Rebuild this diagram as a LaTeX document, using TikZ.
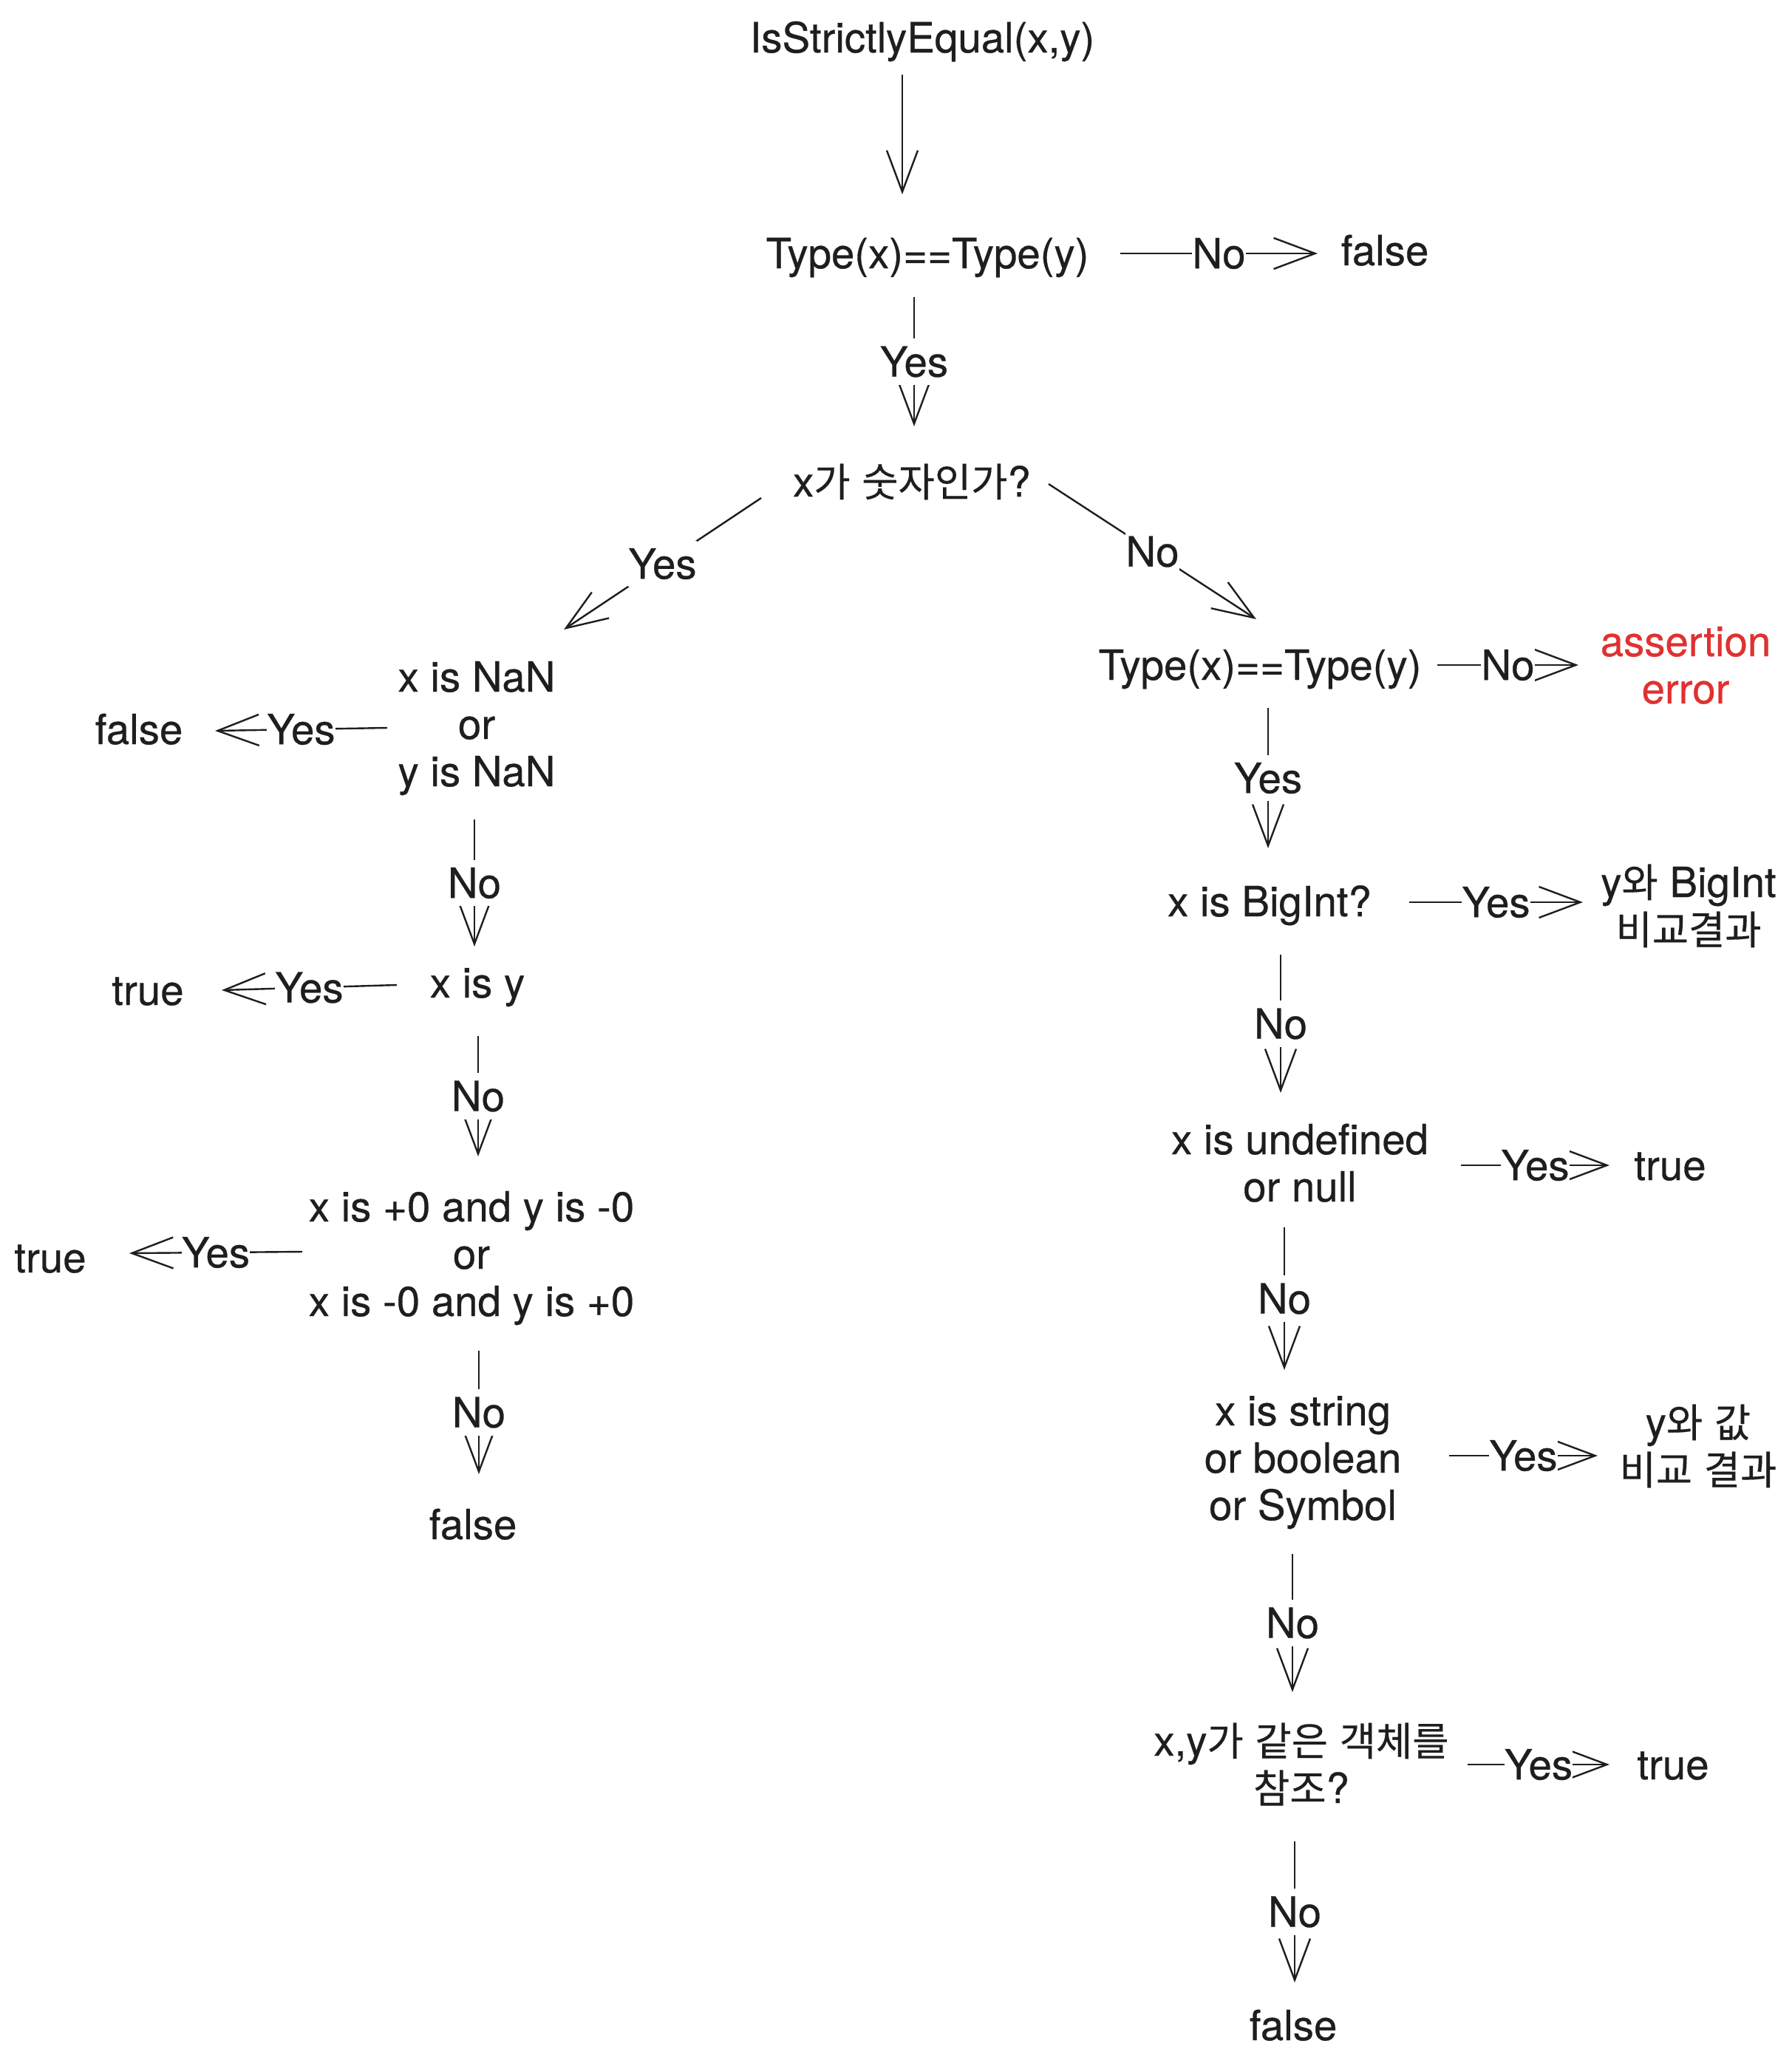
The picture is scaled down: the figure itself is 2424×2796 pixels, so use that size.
\documentclass[tikz,border=0pt]{standalone}
\usepackage{fontspec}
\setmainfont{TeX Gyre Heros}[FakeBold=0.5]
\newfontfamily\kr[Scale=0.95,FakeBold=0.3]{Noto Sans CJK KR}
\usetikzlibrary{arrows.meta}
\definecolor{ink}{RGB}{30,30,30}
\definecolor{errred}{RGB}{224,49,49}
\newcommand\fs{\fontsize{14.1}{16}\selectfont}
\newcommand\K[1]{{\kr #1}}
\newcommand\ml[1]{\vtop{\baselineskip=16pt\lineskiplimit=-\maxdimen\halign{\hfil##\hfil\cr#1\crcr}}}
\begin{document}
\begin{tikzpicture}[x=0.25pt,y=-0.25pt,
  txt/.style={anchor=base, inner sep=0pt, font=\fs, text=ink},
  lbl/.style={fill=white, inner xsep=0pt, inner ysep=2.75pt, text height=10.1pt, text depth=0pt, font=\fs, text=ink},
  arr/.style={draw=ink, line width=0.6pt, -{Straight Barb[length=14pt,width=10.5pt]}}]
\fill[white] (0,0) rectangle (2424,2796);
\useasboundingbox (0,0) rectangle (2424,2796);
% nodes
\node[txt] (n1) at (1248,71) {IsStrictlyEqual(x,y)};
\node[txt] (n2) at (1255,363) {Type(x)==Type(y)};
\node[txt] (f1) at (1874,359) {false};
\node[txt] (n3) at (1234,672) {x\K{가} \K{숫자인가}?};
\node[txt] (n4) at (645,936) {\ml{x is NaN\cr or\cr y is NaN}};
\node[txt] (f2) at (188,1007) {false};
\node[txt] (n5) at (646,1350) {x is y};
\node[txt] (f3) at (200,1360) {true};
\node[txt] (n6) at (638,1653) {\ml{x is +0 and y is -0\cr or\cr x is -0 and y is +0}};
\node[txt] (f4) at (68,1722) {true};
\node[txt] (f5) at (640,2083) {false};
\node[txt] (n7) at (1705,920) {Type(x)==Type(y)};
\node[txt, text=errred] (err) at (2281,888) {\ml{assertion\cr error}};
\node[txt] (n8) at (1718,1240) {x is BigInt?};
\node[txt] (yb) at (2285,1214) {\ml{y\K{와} BigInt\cr \K{비교결과}}};
\node[txt] (n9) at (1759,1562) {\ml{x is undefined\cr or null}};
\node[txt] (f6) at (2260,1597) {true};
\node[txt] (n10) at (1763,1929) {\ml{x is string\cr or boolean\cr or Symbol}};
\node[txt] (yv) at (2298,1945) {\ml{y\K{와} \K{값}\cr \K{비교} \K{결과}}};
\node[txt] (n11) at (1761,2376) {\ml{x,y\K{가} \K{같은} \K{객체를}\cr \K{참조}?}};
\node[txt] (f7) at (2264,2408) {true};
\node[txt] (f8) at (1750,2761) {false};
% connectors
\draw[arr] ([shift={(-27,30)}]n1.base) -- ([shift={(-34,-100)}]n2.base);
\draw[arr] ([shift={(261,-20)}]n2.base) -- node[lbl]{No} ([shift={(-91,-16)}]f1.base);
\draw[arr] ([shift={(-18,39)}]n2.base) -- node[lbl]{Yes} ([shift={(3,-95)}]n3.base);
\draw[arr] ([shift={(-204,2)}]n3.base) -- node[lbl]{Yes} ([shift={(118,-84)}]n4.base);
\draw[arr] ([shift={(185,-17)}]n3.base) -- node[lbl]{No} ([shift={(-5,-82)}]n7.base);
\draw[arr] ([shift={(-121,49)}]n4.base) -- node[lbl]{Yes} ([shift={(103,-18)}]f2.base);
\draw[arr] ([shift={(-3,173)}]n4.base) -- node[lbl]{No} ([shift={(-4,-69)}]n5.base);
\draw[arr] ([shift={(-109,-17)}]n5.base) -- node[lbl]{Yes} ([shift={(100,-20)}]f3.base);
\draw[arr] ([shift={(1,52)}]n5.base) -- node[lbl]{No} ([shift={(9,-88)}]n6.base);
\draw[arr] ([shift={(-229,41)}]n6.base) -- node[lbl]{Yes} ([shift={(107,-26)}]f4.base);
\draw[arr] ([shift={(10,175)}]n6.base) -- node[lbl]{No} ([shift={(8,-88)}]f5.base);
\draw[arr] ([shift={(240,-20)}]n7.base) -- node[lbl]{No} ([shift={(-145,12)}]err.base);
\draw[arr] ([shift={(11,38)}]n7.base) -- node[lbl]{Yes} ([shift={(-2,-92)}]n8.base);
\draw[arr] ([shift={(189,-19)}]n8.base) -- node[lbl]{Yes} ([shift={(-143,7)}]yb.base);
\draw[arr] ([shift={(15,52)}]n8.base) -- node[lbl]{No} ([shift={(-26,-83)}]n9.base);
\draw[arr] ([shift={(218,15)}]n9.base) -- node[lbl]{Yes} ([shift={(-82,-20)}]f6.base);
\draw[arr] ([shift={(-21,99)}]n9.base) -- node[lbl]{No} ([shift={(-25,-75)}]n10.base);
\draw[arr] ([shift={(198,41)}]n10.base) -- node[lbl]{Yes} ([shift={(-136,25)}]yv.base);
\draw[arr] ([shift={(-14,174)}]n10.base) -- node[lbl]{No} ([shift={(-12,-86)}]n11.base);
\draw[arr] ([shift={(225,12)}]n11.base) -- node[lbl]{Yes} ([shift={(-86,-20)}]f7.base);
\draw[arr] ([shift={(-9,116)}]n11.base) -- node[lbl]{No} ([shift={(2,-78)}]f8.base);
\end{tikzpicture}
\end{document}
